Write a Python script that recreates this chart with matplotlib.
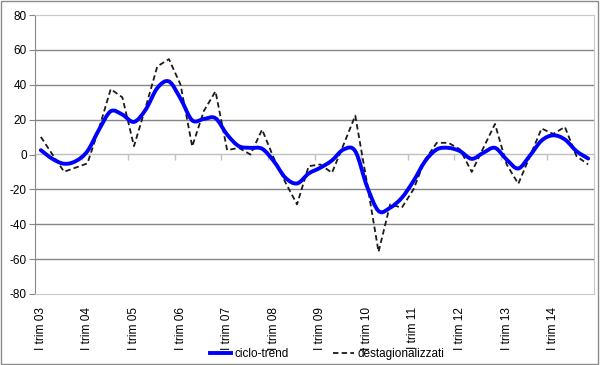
import numpy as np
import matplotlib
matplotlib.use('Agg')
import matplotlib.pyplot as plt
from matplotlib.path import Path
from matplotlib.patches import PathPatch, Rectangle
from matplotlib.lines import Line2D

plt.rcParams['font.family'] = ['Liberation Sans', 'DejaVu Sans']
plt.rcParams['axes.unicode_minus'] = False

# trimestri dal I trim 03 al IV trim 14
anni = ['03', '04', '05', '06', '07', '08', '09', '10', '11', '12', '13', '14']
etichette = ['I trim ' + a for a in anni]

# serie
ciclo_trend = [2.5, -2.5, -5.3, -3.8, 1.9, 14.3, 24.8, 22.9, 18.7, 25.7, 38.1, 41.9,
               32.0, 19.6, 20.4, 20.8, 11.4, 4.8, 3.8, 3.3, -3.8, -13.3, -16.6, -10.9,
               -7.6, -3.4, 2.9, 1.9, -18.1, -32.4, -30.5, -24.8, -15.2, -3.8, 2.9, 3.8,
               1.9, -2.5, 1.0, 3.8, -2.9, -8.0, -0.6, 8.0, 11.0, 8.6, 1.9, -2.3]
destag = [10.1, 0.0, -9.9, -7.5, -5.1, 15.0, 37.5, 32.8, 4.8, 27.0, 50.5, 54.7,
          40.0, 4.6, 25.0, 36.2, 2.5, 3.8, 0.0, 14.3, -2.0, -16.0, -28.6, -6.7,
          -5.7, -10.5, 5.7, 22.3, -16.0, -55.8, -28.6, -30.5, -20.0, -2.9, 6.7, 6.7,
          2.9, -10.0, 3.8, 17.5, -5.7, -16.8, -1.0, 14.9, 11.8, 15.8, -1.0, -5.7]

n = len(ciclo_trend)
x = np.arange(n)

fig = plt.figure(figsize=(6, 3.65), dpi=100)
ax = fig.add_axes([35 / 600, 1 - 294 / 365, 559 / 600, 279 / 365])

ax.set_xlim(-0.5, n - 0.5)
ax.set_ylim(-80, 80)

# griglia
for g in [-60, -40, -20, 20, 40, 60]:
    ax.axhline(g, color='#868686', lw=1, zorder=0.5)

# asse orizzontale sullo zero con le tacche
sec = ax.secondary_xaxis(0.5)
sec.set_xticks([])
sec.set_xticks(np.arange(-0.5, n, 4), minor=True)
sec.tick_params(which='minor', direction='in', length=4, color='#c0c0c0', width=1)
for s in sec.spines.values():
    s.set_color('#c0c0c0')
    s.set_linewidth(1)

# linea liscia (stile Excel) per il ciclo-trend
pts = np.column_stack([x, ciclo_trend])
verts = [pts[0]]
codes = [Path.MOVETO]
for i in range(n - 1):
    p0 = pts[max(i - 1, 0)]
    p1 = pts[i]
    p2 = pts[i + 1]
    p3 = pts[min(i + 2, n - 1)]
    c1 = p1 + (p2 - p0) / 6
    c2 = p2 - (p3 - p1) / 6
    verts += [c1, c2, p2]
    codes += [Path.CURVE4] * 3
curva = PathPatch(Path(verts, codes), facecolor='none', edgecolor='#0000ff',
                  lw=2.8, capstyle='round', joinstyle='round', zorder=3)
ax.add_patch(curva)

ax.plot(x, destag, color='#1a1a1a', lw=1.3, ls=(0, (3.0, 1.8)), zorder=2.5)

# assi
ax.set_yticks(range(-80, 81, 20))
ax.tick_params(axis='y', direction='out', length=4, color='#868686', labelsize=8.5, pad=2)
ax.set_xticks(np.arange(0, n, 4))
ax.set_xticklabels(etichette, rotation=90, fontsize=8.6)
ax.tick_params(axis='x', length=0, pad=9)
ax.spines['left'].set_color('#868686')
for s in ['top', 'right', 'bottom']:
    ax.spines[s].set_color('#c8c8c8')

# legenda
handles = [Line2D([], [], color='#0000ff', lw=2.8),
           Line2D([], [], color='#1a1a1a', lw=1.3, ls=(0, (3.0, 1.8)))]
fig.legend(handles, ['ciclo-trend', 'destagionalizzati'], ncol=2, frameon=False,
           loc='center', bbox_to_anchor=(0.545, 0.03), fontsize=8.5,
           handlelength=1.8, handletextpad=0.25, columnspacing=3.8)

# bordo del grafico
fig.patches.append(Rectangle((0.002, 0.003), 0.995, 0.993, transform=fig.transFigure,
                             fill=False, edgecolor='#8c8c8c', lw=1))

fig.savefig('out.png', dpi=100)
